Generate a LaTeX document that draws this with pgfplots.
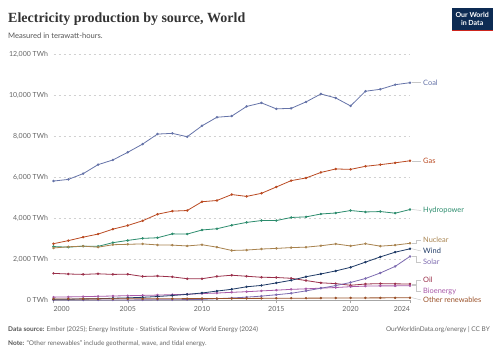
\documentclass[border=0pt]{standalone}
\usepackage{pgfplots}
\pgfplotsset{compat=1.18}
\usepackage{fontspec}
\setmainfont{Lato}
\newfontfamily\titlefont{Liberation Serif}
\definecolor{coal}{HTML}{6573A8}
\definecolor{gas}{HTML}{BA4A22}
\definecolor{hydro}{HTML}{2C8C6D}
\definecolor{nuclear}{HTML}{A8834F}
\definecolor{wind}{HTML}{1F3A66}
\definecolor{solar}{HTML}{7D6BB0}
\definecolor{oil}{HTML}{9A2F4A}
\definecolor{bio}{HTML}{A85AA8}
\definecolor{other}{HTML}{9A5129}
\definecolor{txt}{HTML}{666666}
\definecolor{dark}{HTML}{555555}
\definecolor{owid}{HTML}{0D2B53}
\definecolor{owidred}{HTML}{CE261E}
\begin{document}
\begin{tikzpicture}
\path (0pt,0pt) rectangle (500pt,353pt);
% title
\node[anchor=base west,inner sep=0] at (8pt,330pt) {\titlefont\bfseries\fontsize{14}{16}\selectfont\color[HTML]{333333}Electricity production by source, World};
\node[anchor=base west,inner sep=0] at (8pt,314.5pt) {\fontsize{7.6}{9}\selectfont\color{dark}Measured in terawatt-hours.};
% logo
\fill[owid] (452pt,322pt) rectangle (492.5pt,345pt);
\fill[owidred] (452pt,322pt) rectangle (492.5pt,323.3pt);
\node[align=center,text=white,inner sep=0,font=\fontsize{7}{8}\selectfont\bfseries] at (472.2pt,334pt) {Our World\\in Data};
\begin{axis}[
  at={(53.5pt,53pt)}, anchor=south west, scale only axis,
  width=356.5pt, height=245.7pt,
  xmin=2000, xmax=2024, ymin=0, ymax=12000,
  scaled y ticks=false, scaled x ticks=false,
  axis x line=bottom, axis y line=left,
  axis line style={-, draw=black!35},
  y axis line style={draw=none},
  ytick={0,2000,4000,6000,8000,10000,12000},
  yticklabels={0 TWh,{2,000 TWh},{4,000 TWh},{6,000 TWh},{8,000 TWh},{10,000 TWh},{12,000 TWh}},
  y tick label style={font=\fontsize{7}{8}\selectfont, text=txt, xshift=1pt},
  ymajorgrids, grid style={draw=black!18, dash pattern=on 2.5pt off 2.5pt},
  ytick style={draw=none},
  xtick={2000,2005,2010,2015,2020,2024},
  xticklabels={\makebox[0pt][l]{2000},2005,2010,2015,2020,\makebox[0pt][r]{2024}},
  x tick label style={font=\fontsize{7}{8}\selectfont, text=txt},
  xtick style={draw=black!35},
  tick align=outside, major tick length=3pt,
  every axis plot/.append style={line width=0.8pt, mark=*, mark size=0.8pt},
  clip=false,
]
\addplot[coal, mark options={fill=coal}] coordinates {(2000,5809)(2001,5890)(2002,6172)(2003,6610)(2004,6840)(2005,7214)(2006,7615)(2007,8104)(2008,8138)(2009,7974)(2010,8508)(2011,8925)(2012,8983)(2013,9453)(2014,9628)(2015,9335)(2016,9360)(2017,9675)(2018,10062)(2019,9867)(2020,9478)(2021,10195)(2022,10291)(2023,10514)(2024,10613)};
\addplot[gas, mark options={fill=gas}] coordinates {(2000,2750)(2001,2900)(2002,3070)(2003,3220)(2004,3460)(2005,3640)(2006,3870)(2007,4190)(2008,4340)(2009,4370)(2010,4800)(2011,4860)(2012,5150)(2013,5060)(2014,5210)(2015,5520)(2016,5830)(2017,5960)(2018,6230)(2019,6400)(2020,6380)(2021,6530)(2022,6610)(2023,6700)(2024,6800)};
\addplot[hydro, mark options={fill=hydro}] coordinates {(2000,2610)(2001,2580)(2002,2630)(2003,2620)(2004,2800)(2005,2910)(2006,3010)(2007,3040)(2008,3230)(2009,3220)(2010,3420)(2011,3480)(2012,3650)(2013,3790)(2014,3880)(2015,3880)(2016,4030)(2017,4060)(2018,4200)(2019,4250)(2020,4370)(2021,4300)(2022,4320)(2023,4240)(2024,4420)};
\addplot[nuclear, mark options={fill=nuclear}] coordinates {(2000,2540)(2001,2600)(2002,2630)(2003,2580)(2004,2700)(2005,2720)(2006,2740)(2007,2690)(2008,2680)(2009,2640)(2010,2700)(2011,2580)(2012,2420)(2013,2440)(2014,2490)(2015,2520)(2016,2560)(2017,2580)(2018,2650)(2019,2740)(2020,2640)(2021,2750)(2022,2630)(2023,2680)(2024,2770)};
\addplot[oil, mark options={fill=oil}] coordinates {(2000,1300)(2001,1270)(2002,1250)(2003,1280)(2004,1250)(2005,1260)(2006,1150)(2007,1170)(2008,1130)(2009,1040)(2010,1040)(2011,1150)(2012,1210)(2013,1160)(2014,1110)(2015,1100)(2016,1060)(2017,950)(2018,840)(2019,800)(2020,720)(2021,780)(2022,800)(2023,790)(2024,780)};
\addplot[bio, mark options={fill=bio}] coordinates {(2000,140)(2001,150)(2002,165)(2003,180)(2004,195)(2005,210)(2006,225)(2007,240)(2008,260)(2009,280)(2010,315)(2011,340)(2012,375)(2013,405)(2014,445)(2015,480)(2016,520)(2017,545)(2018,580)(2019,610)(2020,650)(2021,680)(2022,690)(2023,690)(2024,700)};
\addplot[solar, mark options={fill=solar}] coordinates {(2000,1)(2001,2)(2002,2)(2003,3)(2004,3)(2005,4)(2006,6)(2007,8)(2008,12)(2009,20)(2010,32)(2011,64)(2012,99)(2013,139)(2014,190)(2015,256)(2016,328)(2017,445)(2018,575)(2019,704)(2020,856)(2021,1050)(2022,1320)(2023,1640)(2024,2130)};
\addplot[wind, mark options={fill=wind}] coordinates {(2000,31)(2001,38)(2002,52)(2003,63)(2004,85)(2005,104)(2006,133)(2007,170)(2008,219)(2009,275)(2010,342)(2011,437)(2012,523)(2013,646)(2014,712)(2015,834)(2016,962)(2017,1136)(2018,1272)(2019,1421)(2020,1596)(2021,1849)(2022,2105)(2023,2335)(2024,2500)};
\addplot[other, mark options={fill=other}] coordinates {(2000,52)(2001,53)(2002,54)(2003,56)(2004,57)(2005,58)(2006,60)(2007,62)(2008,64)(2009,67)(2010,70)(2011,72)(2012,74)(2013,77)(2014,80)(2015,85)(2016,88)(2017,90)(2018,93)(2019,95)(2020,100)(2021,102)(2022,104)(2023,107)(2024,110)};
\end{axis}
% labels and connectors
\tikzset{conn/.style={draw=black!22, line width=0.5pt}, lab/.style={anchor=west, inner sep=0, font=\fontsize{7.4}{8}\selectfont}}
\draw[conn] (412pt,270.3pt) -- (421pt,270.3pt); \node[lab,text=coal] at (423pt,270.3pt) {Coal};
\draw[conn] (412pt,192.2pt) -- (421pt,192.2pt); \node[lab,text=gas] at (423pt,192.2pt) {Gas};
\draw[conn] (412pt,143.5pt) -- (421pt,142.5pt); \node[lab,text=hydro] at (423pt,142.5pt) {Hydropower};
\draw[conn] (412pt,109.7pt) -- (416pt,109.7pt) -- (416pt,113pt) -- (421pt,113pt); \node[lab,text=nuclear] at (423pt,113pt) {Nuclear};
\draw[conn] (412pt,104.2pt) -- (421pt,102pt); \node[lab,text=wind] at (423pt,102pt) {Wind};
\draw[conn] (412pt,96.6pt) -- (416pt,96.6pt) -- (416pt,91pt) -- (421pt,91pt); \node[lab,text=solar] at (423pt,91pt) {Solar};
\draw[conn] (412pt,69pt) -- (416pt,69pt) -- (416pt,73pt) -- (421pt,73pt); \node[lab,text=oil] at (423pt,73pt) {Oil};
\draw[conn] (412pt,67.3pt) -- (416pt,67.3pt) -- (416pt,62pt) -- (421pt,62pt); \node[lab,text=bio] at (423pt,62pt) {Bioenergy};
\draw[conn] (412pt,55.3pt) -- (421pt,53pt); \node[lab,text=other] at (423pt,53pt) {Other renewables};
% footer
\node[anchor=base west,inner sep=0] at (8pt,21pt) {\fontsize{6.5}{8}\selectfont\color{dark}\textbf{Data source:} \color{txt}Ember (2025); Energy Institute - Statistical Review of World Energy (2024)};
\node[anchor=base east,inner sep=0] at (490pt,21pt) {\fontsize{6.5}{8}\selectfont\color{txt}OurWorldinData.org/energy | CC BY};
\node[anchor=base west,inner sep=0] at (8pt,7.5pt) {\fontsize{6.5}{8}\selectfont\color{dark}\textbf{Note:} \color{txt}``Other renewables'' include geothermal, wave, and tidal energy.};
\end{tikzpicture}
\end{document}
